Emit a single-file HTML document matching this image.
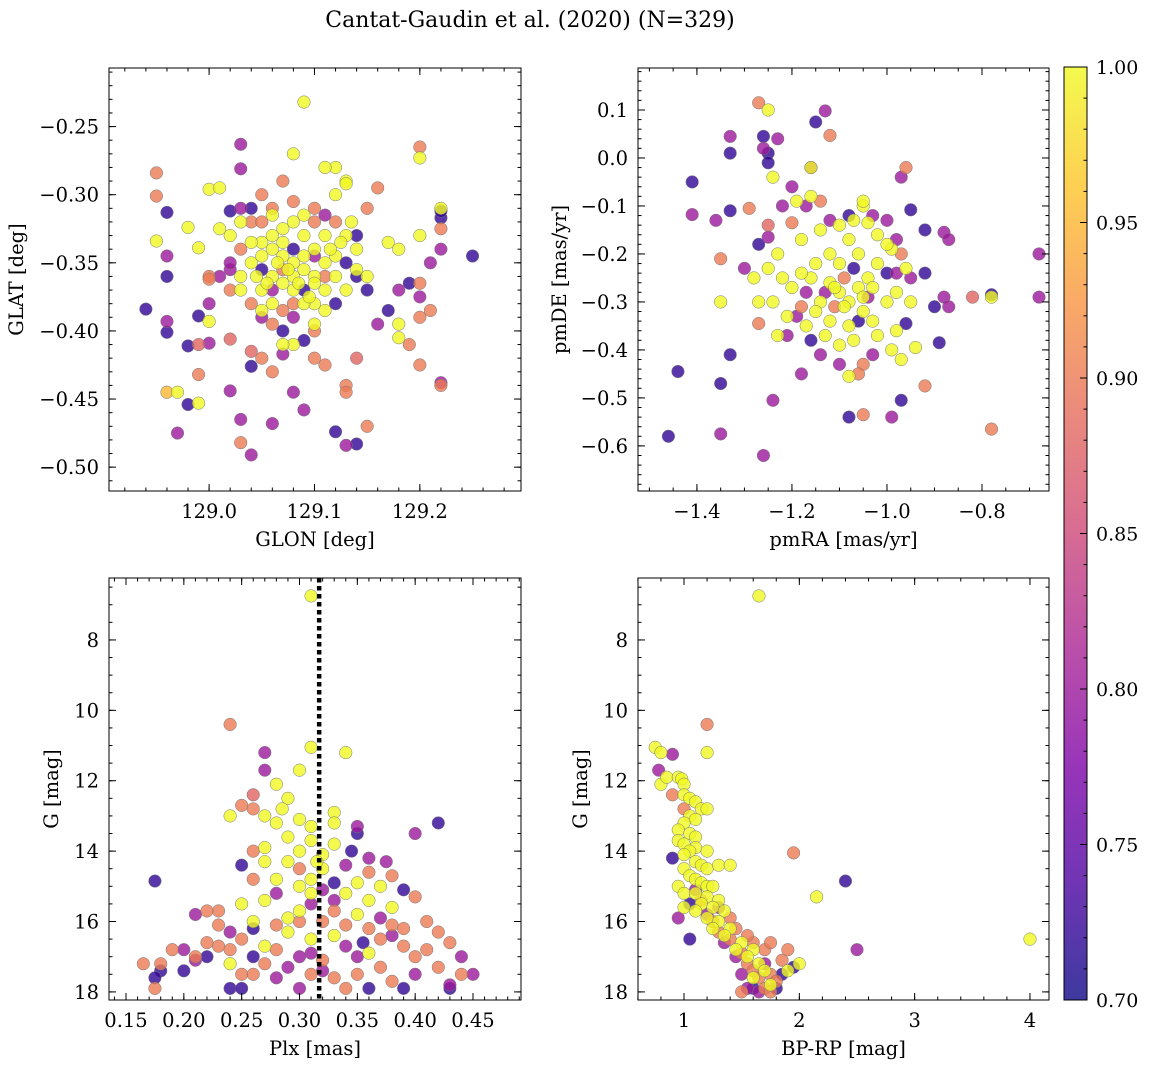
<!DOCTYPE html>
<html><head><meta charset="utf-8">
<style>
html,body{margin:0;padding:0;background:#fff;}
svg text{font-family:"DejaVu Serif","Liberation Serif",serif;fill:#000;}
</style></head>
<body>
<svg id="fig" width="1149" height="1067" xmlns="http://www.w3.org/2000/svg">
<defs>
<linearGradient id="plasma" x1="0" y1="1" x2="0" y2="0">
<stop offset="0" stop-color="#0d0887"/><stop offset="0.125" stop-color="#4c02a1"/>
<stop offset="0.25" stop-color="#7e03a8"/><stop offset="0.375" stop-color="#a92395"/>
<stop offset="0.5" stop-color="#cc4778"/><stop offset="0.625" stop-color="#e56b5d"/>
<stop offset="0.75" stop-color="#f89540"/><stop offset="0.875" stop-color="#fdc527"/>
<stop offset="1" stop-color="#f0f921"/>
</linearGradient>
</defs>
<text x="530" y="27" font-size="22" text-anchor="middle">Cantat-Gaudin et al. (2020) (N=329)</text>
</svg>
<script>
// ---- data: [x, y, membership probability] ----
const sky = [[129.09,-0.232,1],[128.95,-0.284,0.9],[128.95,-0.301,0.9],[128.96,-0.313,0.72],[128.95,-0.334,1],[128.96,-0.345,0.8],[128.96,-0.36,0.72],[128.94,-0.384,0.72],[128.96,-0.393,0.8],[128.96,-0.401,0.72],[128.98,-0.411,0.72],[128.99,-0.41,0.88],[128.99,-0.389,0.72],[129.0,-0.409,0.8],[129.0,-0.38,0.8],[128.96,-0.445,0.95],[128.97,-0.445,1],[128.98,-0.454,0.72],[128.97,-0.475,0.8],[128.99,-0.432,0.9],[128.99,-0.453,1],[129.0,-0.393,1],[128.99,-0.339,1],[128.98,-0.324,1],[129.0,-0.296,1],[129.01,-0.295,1],[129.0,-0.36,0.9],[129.0,-0.362,0.9],[129.01,-0.325,1],[129.02,-0.312,0.72],[129.03,-0.263,0.8],[129.03,-0.281,0.8],[129.03,-0.31,0.8],[129.02,-0.355,0.8],[129.02,-0.406,0.88],[129.02,-0.444,0.8],[129.03,-0.465,0.8],[129.03,-0.482,0.9],[129.04,-0.491,0.8],[129.04,-0.415,0.88],[129.04,-0.426,0.72],[129.05,-0.42,0.9],[129.06,-0.468,0.8],[129.06,-0.43,0.9],[129.07,-0.417,0.8],[129.08,-0.445,0.8],[129.09,-0.458,0.8],[129.09,-0.407,0.72],[129.08,-0.41,1],[129.07,-0.41,1],[129.1,-0.42,0.9],[129.11,-0.425,0.9],[129.12,-0.474,0.72],[129.13,-0.44,0.9],[129.13,-0.445,0.9],[129.13,-0.484,0.8],[129.14,-0.483,0.72],[129.15,-0.47,0.9],[129.14,-0.42,0.88],[129.16,-0.395,0.8],[129.18,-0.395,1],[129.18,-0.405,1],[129.17,-0.385,0.72],[129.19,-0.41,0.9],[129.2,-0.425,0.9],[129.2,-0.39,0.9],[129.2,-0.375,0.8],[129.2,-0.365,0.9],[129.21,-0.385,0.9],[129.22,-0.34,0.8],[129.22,-0.317,0.72],[129.22,-0.312,0.72],[129.22,-0.31,1],[129.21,-0.35,0.8],[129.2,-0.33,1],[129.2,-0.265,0.9],[129.2,-0.273,1],[129.22,-0.325,0.9],[129.22,-0.44,0.9],[129.22,-0.438,0.8],[129.25,-0.345,0.72],[129.19,-0.365,0.72],[129.18,-0.37,0.8],[129.18,-0.34,1],[129.17,-0.335,1],[129.16,-0.295,0.9],[129.15,-0.37,0.72],[129.15,-0.36,1],[129.14,-0.34,1],[129.13,-0.29,1],[129.13,-0.292,1],[129.15,-0.31,0.9],[129.14,-0.33,0.72],[129.14,-0.36,0.72],[129.12,-0.28,1],[129.11,-0.28,1],[129.08,-0.27,1],[129.07,-0.29,0.9],[129.06,-0.31,0.9],[129.05,-0.3,0.9],[129.04,-0.32,0.9],
[129.05,-0.335,1],[129.06,-0.34,1],[129.07,-0.345,1],[129.08,-0.35,1],[129.09,-0.355,1],[129.1,-0.36,1],[129.06,-0.36,1],[129.07,-0.365,1],[129.05,-0.37,1],[129.08,-0.37,1],[129.09,-0.33,1],[129.1,-0.34,1],[129.11,-0.35,1],[129.12,-0.345,1],[129.04,-0.35,1],[129.03,-0.36,1],[129.06,-0.38,1],[129.07,-0.385,0.9],[129.08,-0.39,0.8],[129.1,-0.38,1],[129.11,-0.37,1],[129.12,-0.36,1],[129.13,-0.35,0.72],[129.09,-0.315,1],[129.08,-0.32,1],[129.07,-0.325,1],[129.06,-0.315,1],[129.05,-0.32,0.9],[129.1,-0.32,0.9],[129.11,-0.33,1],[129.12,-0.32,0.9],[129.13,-0.33,1],[129.04,-0.335,1],[129.03,-0.34,0.9],[129.02,-0.35,0.8],[129.05,-0.355,0.72],[129.08,-0.34,0.72],[129.09,-0.37,0.72],[129.1,-0.345,0.8],[129.07,-0.355,0.9],[129.11,-0.36,0.9],[129.06,-0.37,0.8],[129.05,-0.385,1],[129.04,-0.38,0.9],[129.06,-0.395,0.9],[129.09,-0.38,1],[129.1,-0.395,1],[129.11,-0.385,1],[129.12,-0.38,0.72],[129.13,-0.37,1],[129.14,-0.355,1],[129.03,-0.37,1],[129.02,-0.33,1],[129.03,-0.32,1],[129.04,-0.31,0.72],[129.08,-0.305,0.9],[129.1,-0.31,0.9],[129.11,-0.315,0.8],[129.12,-0.3,1],[129.06,-0.33,1],[129.07,-0.335,1],[129.08,-0.36,1],[129.09,-0.345,1],[129.1,-0.365,1],[129.05,-0.345,1],[129.065,-0.35,1],[129.075,-0.355,1],[129.085,-0.365,1],[129.095,-0.375,1],[129.055,-0.365,1],[129.045,-0.36,1],[129.115,-0.34,1],[129.125,-0.335,1],[129.135,-0.32,1],[129.02,-0.37,0.9],[129.01,-0.36,0.8],[129.05,-0.39,0.8],[129.07,-0.4,0.72],[129.08,-0.38,0.9],[129.1,-0.4,0.9]];
const pm = [[-1.27,0.115,0.9],[-1.25,0.1,1],[-1.26,0.045,0.72],[-1.26,0.02,0.8],[-1.25,0.01,0.72],[-1.25,-0.01,0.72],[-1.33,0.045,0.8],[-1.33,0.01,0.72],[-1.23,0.04,0.8],[-1.15,0.075,0.72],[-1.13,0.098,0.8],[-1.12,0.047,0.9],[-1.41,-0.05,0.72],[-1.41,-0.118,0.8],[-1.36,-0.13,0.8],[-1.33,-0.11,0.72],[-1.29,-0.105,0.9],[-1.24,-0.04,1],[-1.16,-0.02,0.8],[-1.16,-0.02,1],[-1.2,-0.06,0.8],[-0.97,-0.04,0.8],[-0.96,-0.02,0.9],[-0.95,-0.108,0.72],[-0.92,-0.15,0.72],[-0.88,-0.155,0.8],[-0.87,-0.17,0.8],[-0.92,-0.24,0.72],[-0.98,-0.24,0.8],[-0.82,-0.29,0.88],[-0.78,-0.29,1],[-0.78,-0.285,0.72],[-0.88,-0.29,0.8],[-0.87,-0.31,0.8],[-0.9,-0.31,0.72],[-0.68,-0.2,0.8],[-0.68,-0.29,0.8],[-0.89,-0.385,0.72],[-0.92,-0.475,0.9],[-0.78,-0.565,0.9],[-0.97,-0.505,0.72],[-0.99,-0.54,0.8],[-1.05,-0.535,0.9],[-1.08,-0.54,0.72],[-1.18,-0.45,0.8],[-1.24,-0.505,0.8],[-1.26,-0.62,0.8],[-1.35,-0.575,0.8],[-1.35,-0.47,0.72],[-1.44,-0.445,0.72],[-1.46,-0.58,0.72],[-1.33,-0.41,0.72],[-1.35,-0.3,1],[-1.35,-0.21,0.9],[-1.3,-0.23,0.8],[-1.28,-0.25,1],[-1.27,-0.3,1],[-1.27,-0.345,0.9],[-1.23,-0.37,1],[-1.21,-0.37,0.8],[-1.27,-0.18,0.72],[-1.25,-0.165,0.8],[-1.25,-0.14,0.88],[-1.2,-0.135,0.9],[-1.22,-0.1,0.8],[-1.19,-0.09,1],[-1.17,-0.1,0.8],[-1.16,-0.08,1],[-1.14,-0.09,0.9],[-1.12,-0.13,0.8],[-1.08,-0.12,0.72],[-1.05,-0.1,1],[-1.03,-0.12,0.8],[-1.04,-0.135,1],[-1.0,-0.13,0.8],[-0.98,-0.17,0.8],[-0.97,-0.2,0.9],[-0.95,-0.3,1],[-0.96,-0.345,0.72],[-0.94,-0.395,1],[-0.97,-0.42,1],[-0.99,-0.4,1],[-1.03,-0.41,0.8],[-1.05,-0.43,0.9],[-1.06,-0.45,0.9],[-1.08,-0.455,1],[-1.1,-0.43,0.8],[-1.14,-0.41,0.8],[-1.16,-0.38,0.72],[-1.19,-0.33,0.8],[-1.18,-0.31,0.9],
[-1.1,-0.28,1],[-1.12,-0.26,1],[-1.08,-0.3,1],[-1.06,-0.27,1],[-1.14,-0.3,1],[-1.16,-0.25,1],[-1.04,-0.25,1],[-1.02,-0.22,1],[-1.1,-0.22,1],[-1.12,-0.2,1],[-1.15,-0.22,1],[-1.18,-0.24,1],[-1.2,-0.27,1],[-1.22,-0.25,1],[-1.05,-0.32,1],[-1.03,-0.34,1],[-1.08,-0.35,1],[-1.12,-0.34,1],[-1.0,-0.3,1],[-0.98,-0.28,1],[-1.06,-0.2,1],[-1.08,-0.17,1],[-1.05,-0.09,1],[-1.02,-0.16,1],[-0.99,-0.19,1],[-1.13,-0.37,1],[-1.1,-0.39,1],[-1.07,-0.38,1],[-1.02,-0.37,1],[-0.98,-0.36,1],[-1.25,-0.23,1],[-1.24,-0.3,1],[-1.21,-0.33,1],[-1.17,-0.35,1],[-1.15,-0.32,1],[-1.09,-0.25,0.9],[-1.13,-0.28,0.8],[-1.07,-0.23,0.72],[-1.11,-0.31,0.9],[-1.04,-0.29,0.8],[-1.0,-0.24,0.72],[-1.06,-0.34,0.72],[-1.17,-0.28,0.8],[-1.23,-0.2,1],[-1.18,-0.17,1],[-1.14,-0.15,1],[-1.1,-0.14,1],[-1.07,-0.13,1],[-1.0,-0.18,1],[-0.96,-0.23,1],[-0.95,-0.25,0.8],[-1.09,-0.31,1],[-1.11,-0.27,1],[-1.05,-0.29,1],[-1.03,-0.27,1]];
const plxG = [[0.31,6.75,1],[0.24,10.4,0.9],[0.27,11.2,0.8],[0.31,11.05,1],[0.34,11.2,1],[0.27,11.7,0.8],[0.3,11.7,1],[0.28,12.1,1],[0.26,12.4,0.88],[0.29,12.5,1],[0.25,12.7,0.9],[0.26,12.8,0.9],[0.285,12.8,1],[0.33,12.9,1],[0.27,13.0,1],[0.24,13.0,1],[0.3,13.1,1],[0.28,13.2,1],[0.31,13.3,1],[0.33,13.2,1],[0.35,13.3,0.8],[0.35,13.5,0.72],[0.4,13.5,0.8],[0.42,13.2,0.72],[0.29,13.6,1],[0.31,13.7,1],[0.33,13.8,1],[0.27,13.9,1],[0.26,14.0,0.9],[0.3,14.0,1],[0.32,14.1,1],[0.345,14.0,0.72],[0.36,14.2,0.8],[0.375,14.3,0.8],[0.29,14.3,1],[0.27,14.3,1],[0.25,14.4,0.72],[0.3,14.5,0.9],[0.32,14.5,1],[0.34,14.4,0.8],[0.36,14.6,0.9],[0.38,14.7,0.9],[0.31,14.8,1],[0.28,14.8,1],[0.26,14.8,0.9],[0.33,14.9,0.72],[0.35,14.9,1],[0.37,15.0,1],[0.39,15.1,0.72],[0.175,14.85,0.72],[0.3,15.0,1],[0.32,15.1,0.8],[0.34,15.2,1],[0.28,15.2,0.8],[0.27,15.4,1],[0.25,15.5,1],[0.23,15.7,0.9],[0.21,15.8,0.8],[0.22,15.7,0.9],[0.4,15.3,0.9],[0.36,15.4,1],[0.38,15.6,1],[0.31,15.5,0.8],[0.3,15.7,1],[0.33,15.7,0.9],[0.35,15.8,1],[0.37,15.9,0.8],[0.41,16.0,0.9],[0.42,16.3,0.9],[0.43,16.6,0.9],[0.44,17.0,0.8],[0.45,17.5,0.8],[0.44,17.5,0.9],[0.43,17.8,0.8],[0.43,17.9,0.72],[0.42,17.3,0.9],[0.4,17.0,0.9],[0.39,16.7,0.9],[0.38,16.4,0.8],[0.36,16.2,0.9],[0.34,16.1,0.9],[0.32,16.0,0.9],[0.3,16.0,0.9],[0.28,16.1,0.9],[0.26,16.2,0.72],[0.24,16.3,0.8],[0.22,16.6,0.9],[0.2,16.8,0.8],[0.19,16.8,0.9],[0.18,17.2,0.9],[0.165,17.2,0.9],[0.18,17.4,0.72],[0.175,17.6,0.72],[0.175,17.9,0.9],[0.2,17.4,0.72],[0.21,17.1,0.8],[0.22,17.0,0.72],[0.23,16.7,0.9],[0.24,17.2,1],[0.25,17.5,0.9],[0.24,17.9,0.72],[0.25,17.9,0.72],[0.26,17.5,0.9],[0.27,17.2,0.9],[0.28,16.8,0.9],[0.29,17.3,0.8],[0.3,17.9,0.8],[0.31,17.5,0.9],[0.32,17.1,0.9],[0.33,17.6,0.9],[0.34,17.9,0.9],[0.35,17.5,0.9],[0.36,17.9,0.72],[0.37,17.3,0.9],[0.38,17.7,0.9],[0.39,17.9,0.72],[0.4,17.5,0.8],[0.41,16.8,0.9],[0.36,16.9,1],[0.34,16.7,0.8],[0.33,16.4,1],[0.31,16.5,1],[0.29,16.3,1],[0.27,16.7,1],[0.26,16.0,1],[0.25,16.5,0.9],[0.24,16.8,0.9],[0.29,15.9,1],[0.31,15.2,1],[0.315,14.3,1],[0.31,16.9,0.8],[0.32,17.4,0.8],[0.35,17.0,0.8],[0.37,16.5,0.9],[0.38,16.1,0.9],[0.39,16.2,0.9],[0.26,17.0,0.72],[0.28,17.6,0.8],[0.3,17.0,0.8],[0.21,17.0,0.9],[0.23,16.1,0.9],[0.355,16.6,0.72],[0.33,15.4,0.8]];
const cmd = [[1.65,6.75,1],[0.75,11.05,1],[0.8,11.2,1],[0.9,11.25,0.8],[1.2,11.2,1],[0.78,11.7,0.8],[0.8,12.1,1],[0.85,11.9,1],[0.95,11.9,1],[0.98,11.95,1],[1.0,12.1,1],[1.0,12.4,1],[0.9,12.4,0.9],[1.05,12.5,1],[1.1,12.6,1],[1.15,12.8,1],[1.2,12.8,1],[1.0,12.8,0.9],[1.05,13.0,1],[1.1,13.1,1],[1.0,13.2,1],[0.95,13.4,1],[1.05,13.5,1],[1.1,13.6,1],[0.95,13.7,1],[1.0,13.8,1],[1.1,13.9,1],[1.05,14.0,1],[1.2,14.0,1],[1.0,14.1,1],[0.9,14.2,0.72],[1.1,14.3,1],[1.15,14.4,1],[1.0,14.5,1],[1.2,14.5,1],[1.3,14.4,1],[1.4,14.4,1],[1.05,14.7,1],[1.1,14.8,1],[1.15,14.9,1],[1.2,15.0,1],[1.25,15.0,1],[0.95,15.0,1],[1.0,15.2,1],[1.1,15.2,1],[1.2,15.3,1],[1.3,15.4,1],[1.05,15.5,0.72],[1.15,15.5,1],[1.25,15.6,1],[1.35,15.7,1],[1.0,15.6,1],[1.1,15.7,1],[1.2,15.9,1],[1.3,16.0,1],[1.4,16.2,1],[1.25,16.2,1],[1.35,16.4,1],[1.5,16.6,1],[1.6,16.8,1],[1.45,16.8,1],[1.55,17.0,1],[1.65,17.2,1],[1.7,17.4,1],[1.6,17.6,1],[1.75,17.8,1],[1.9,17.4,1],[2.0,17.2,1],[2.15,15.3,1],[4.0,16.5,1],[1.95,14.05,0.9],[2.4,14.85,0.72],[2.5,16.8,0.8],[1.05,16.5,0.72],[0.95,15.9,0.8],[1.2,10.4,0.9],
[1.4,16.5,0.9],[1.5,16.9,0.9],[1.55,17.2,0.9],[1.6,17.4,0.9],[1.65,17.6,0.9],[1.7,17.9,0.9],[1.75,17.5,0.9],[1.8,17.7,0.9],[1.85,17.1,0.9],[1.9,16.8,0.9],[1.45,17.0,0.8],[1.5,17.5,0.8],[1.55,17.9,0.8],[1.6,17.9,0.72],[1.7,17.2,0.8],[1.8,17.9,0.72],[1.85,17.5,0.72],[1.95,17.3,0.72],[1.35,16.6,0.8],[1.3,16.3,0.9],[1.25,16.0,0.9],[1.2,15.8,0.8],[1.15,15.4,0.9],[1.1,15.1,0.8],[1.6,16.6,0.9],[1.7,16.8,0.9],[1.75,16.6,0.9],[1.55,16.4,0.9],[1.45,16.2,0.9],[1.4,15.9,0.9],[1.3,15.6,0.8],[1.65,18.0,0.8],[1.5,18.0,0.9],[1.75,18.0,0.9]];
const plxRef = [0.317];
const cbTicks = [0.70,0.75,0.80,0.85,0.90,0.95,1.00];

const NS="http://www.w3.org/2000/svg";
const svg=document.getElementById('fig');
function mk(tag,attrs,parent){const e=document.createElementNS(NS,tag);for(const k in attrs)e.setAttribute(k,attrs[k]);(parent||svg).appendChild(e);return e;}
const stops=[[13,8,135],[76,2,161],[126,3,168],[169,35,149],[204,71,120],[229,107,93],[248,149,64],[253,197,39],[240,249,33]];
function plasma(p){let t=Math.max(0,Math.min(1,(p-0.7)/0.3))*8;const i=Math.min(7,Math.floor(t)),f=t-i;const a=stops[i],b=stops[i+1];return `rgb(${a.map((v,k)=>Math.round(v+(b[k]-v)*f)).join(',')})`;}

const TF=19.5;
function panel(cfg){
  const {name,x0,x1,y0,y1,xd,yd,xMaj,xMin,yMaj,yMin,xlab,ylab,pts,fmtX,fmtY,ylabX}=cfg;
  const sx=v=>x0+(v-xd[0])/(xd[1]-xd[0])*(x1-x0);
  const sy=v=>y1-(v-yd[0])/(yd[1]-yd[0])*(y1-y0);
  const g=mk('g',{});
  
  
  const clip='c'+name;
  const cp=mk('clipPath',{id:clip},g);mk('rect',{x:x0,y:y0,width:x1-x0,height:y1-y0},cp);
  const mg=mk('g',{'clip-path':`url(#${clip})`},g);
  const sorted=pts.slice().sort((a,b)=>a[2]-b[2]);
  sorted.forEach(d=>{
    const c=mk('circle',{cx:sx(d[0]),cy:sy(d[1]),r:6.3,fill:plasma(d[2]),'fill-opacity':0.8,stroke:'#777','stroke-width':0.5},mg);
    
    
  });
  if(cfg.vline){cfg.vline.forEach(v=>{const l=mk('line',{x1:sx(v),x2:sx(v),y1:y0,y2:y1,stroke:'#000','stroke-width':4.5,'stroke-dasharray':'4.5,3.5'},mg);
    
    });}
  const r=mk('rect',{x:x0,y:y0,width:x1-x0,height:y1-y0,fill:'none',stroke:'#000','stroke-width':1},g);
  
  
  const tk=(arr,len,isX,lab,fmt)=>{arr.forEach(v=>{
    if(isX){const X=sx(v);if(X<x0-0.5||X>x1+0.5)return;
      mk('line',{x1:X,x2:X,y1:y1,y2:y1-len,stroke:'#000'},g);mk('line',{x1:X,x2:X,y1:y0,y2:y0+len,stroke:'#000'},g);
      if(lab){const t=mk('text',{x:X,y:y1+27,'font-size':TF,'text-anchor':'middle'},g);t.textContent=fmt(v);
        
        }}
    else{const Y=sy(v);if(Y<y0-0.5||Y>y1+0.5)return;
      mk('line',{x1:x0,x2:x0+len,y1:Y,y2:Y,stroke:'#000'},g);mk('line',{x1:x1,x2:x1-len,y1:Y,y2:Y,stroke:'#000'},g);
      if(lab){const t=mk('text',{x:x0-10,y:Y+7,'font-size':TF,'text-anchor':'end'},g);t.textContent=fmt(v);
        
        }}
  });};
  tk(xMin,3.5,true,false);tk(xMaj,7,true,true,fmtX);tk(yMin,3.5,false,false);tk(yMaj,7,false,true,fmtY);
  const xl=mk('text',{x:(x0+x1)/2,y:y1+55,'font-size':TF,'text-anchor':'middle'},g);xl.textContent=xlab;
  
  
  const ym=(y0+y1)/2;const yl=mk('text',{x:ylabX,y:ym,'font-size':TF,'text-anchor':'middle',transform:`rotate(-90 ${ylabX} ${ym})`},g);yl.textContent=ylab;
  
  
}
const rng=(a,b,s)=>{const o=[];for(let v=a;v<=b+s/2;v+=s)o.push(+v.toFixed(4));return o;};
const minus=s=>s.replace('-','\u2212');
panel({name:'sky-panel',x0:109,x1:521,y0:68,y1:491,xd:[128.905,129.296],yd:[-0.5175,-0.207],
  xMaj:[129.0,129.1,129.2],xMin:rng(128.92,129.28,0.02),yMaj:rng(-0.5,-0.25,0.05),yMin:rng(-0.51,-0.21,0.01),
  xlab:'GLON [deg]',ylab:'GLAT [deg]',pts:sky,fmtX:v=>v.toFixed(1),fmtY:v=>minus(v.toFixed(2)),ylabX:23});
panel({name:'proper-motion-panel',x0:638,x1:1049,y0:68,y1:491,xd:[-1.524,-0.659],yd:[-0.694,0.1875],
  xMaj:[-1.4,-1.2,-1.0,-0.8],xMin:rng(-1.5,-0.65,0.05),yMaj:rng(-0.6,0.1,0.1),yMin:rng(-0.68,0.18,0.02),
  xlab:'pmRA [mas/yr]',ylab:'pmDE [mas/yr]',pts:pm,fmtX:v=>minus(v.toFixed(1)),fmtY:v=>minus(v.toFixed(1)),ylabX:566});
panel({name:'parallax-panel',x0:109,x1:521,y0:578,y1:1000,xd:[0.1353,0.4915],yd:[18.23,6.24],
  xMaj:rng(0.15,0.45,0.05),xMin:rng(0.14,0.49,0.01),yMaj:[8,10,12,14,16,18],yMin:rng(6.5,18,0.5),
  xlab:'Plx [mas]',ylab:'G [mag]',pts:plxG,fmtX:v=>v.toFixed(2),fmtY:v=>String(v),ylabX:58,vline:plxRef});
panel({name:'cmd-panel',x0:638,x1:1049,y0:578,y1:1000,xd:[0.601,4.165],yd:[18.23,6.24],
  xMaj:[1,2,3,4],xMin:rng(0.6,4.2,0.2),yMaj:[8,10,12,14,16,18],yMin:rng(6.5,18,0.5),
  xlab:'BP-RP [mag]',ylab:'G [mag]',pts:cmd,fmtX:v=>String(v),fmtY:v=>String(v),ylabX:587});
// colorbar
const cb=mk('g',{});


const cbx=1064,cbw=23,cby0=67,cby1=1000;
mk('rect',{x:cbx,y:cby0,width:cbw,height:cby1-cby0,fill:'url(#plasma)','fill-opacity':0.8},cb);
mk('rect',{x:cbx,y:cby0,width:cbw,height:cby1-cby0,fill:'none',stroke:'#000'},cb);
const cs=v=>cby1-(v-0.7)/0.3*(cby1-cby0);
rng(0.70,1.0,0.01).forEach(v=>mk('line',{x1:cbx+cbw,x2:cbx+cbw-3.5,y1:cs(v),y2:cs(v),stroke:'#000'},cb));
cbTicks.forEach(v=>{mk('line',{x1:cbx+cbw,x2:cbx+cbw-7,y1:cs(v),y2:cs(v),stroke:'#000'},cb);
  const t=mk('text',{x:cbx+cbw+9,y:cs(v)+7,'font-size':19},cb);t.textContent=v.toFixed(2);
  
  });
</script>
</body></html>
